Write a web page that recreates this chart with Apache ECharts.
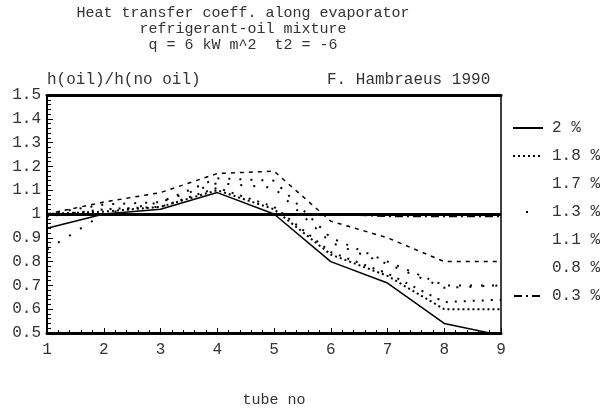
<!DOCTYPE html>
<html>
<head>
<meta charset="utf-8">
<script src="https://cdn.jsdelivr.net/npm/echarts@6/dist/echarts.min.js"></script>
<style>
  html, body { margin: 0; padding: 0; background: #fff; }
  #chart { width: 602px; height: 413px; }
</style>
</head>
<body>
<div id="chart"></div>
<script>
// tube number along the evaporator
const tubes = [1, 2, 3, 4, 5, 6, 7, 8, 9];

// h(oil)/h(no oil) per oil concentration
const oil20 = [0.94, 1.00, 1.02, 1.09, 1.00, 0.80, 0.71, 0.54, 0.49];
const oil18 = [1.00, 1.01, 1.03, 1.10, 1.02, 0.83, 0.74, 0.60, 0.60];
const oil17 = [0.99, 1.02, 1.03, 1.11, 1.03, 0.84, 0.75, 0.63, 0.64];
const oil13 = [0.85, 1.00, 1.05, 1.13, 1.11, 0.88, 0.79, 0.69, 0.70];
const oil11 = [1.00, 1.04, 1.05, 1.15, 1.14, 0.90, 0.80, 0.70, 0.70];
const oil08 = [1.00, 1.05, 1.09, 1.17, 1.18, 0.97, 0.90, 0.80, 0.80];
const oil03 = [1.00, 1.00, 1.00, 1.00, 1.00, 1.00, 0.99, 0.99, 0.99];

const legendNames = ['2 %', '1.8 %', '1.7 %', '1.3 %', '1.1 %', '0.8 %', '0.3 %'];

const FONT = '"Liberation Mono", "DejaVu Sans Mono", monospace';
const TXT = '#333';

const chart = echarts.init(document.getElementById('chart'));

// pair x and y values for a value axis
const pts = (ys) => ys.map((y, i) => [tubes[i], y]);

const mkSeries = (name, ys, dash, width) => ({
  name: name,
  type: 'line',
  data: pts(ys),
  symbol: 'none',
  smooth: false,
  lineStyle: { color: '#000', width: width, type: dash },
  itemStyle: { color: '#000' },
  z: 3
});

// legend samples: some styles barely show in the original key
const legendData = [
  { name: '2 %' },
  { name: '1.8 %' },
  { name: '1.7 %', lineStyle: { opacity: 0 } },
  { name: '1.3 %', lineStyle: { type: [2, 40], dashOffset: -13 } },
  { name: '1.1 %', lineStyle: { opacity: 0 } },
  { name: '0.8 %', lineStyle: { opacity: 0 } },
  { name: '0.3 %' }
];

const option = {
  animation: false,
  backgroundColor: '#fff',
  grid: { left: 47, right: 101, top: 95, bottom: 74 },
  graphic: [
    {
      type: 'text', x: 243, y: 5,
      style: {
        text: 'Heat transfer coeff. along evaporator\nrefrigerant-oil mixture\nq = 6 kW m^2  t2 = -6',
        textAlign: 'center', fill: TXT, font: '15px ' + FONT, lineHeight: 16
      }
    },
    {
      type: 'text', x: 47, y: 72,
      style: { text: 'h(oil)/h(no oil)', fill: TXT, font: '16px ' + FONT }
    },
    {
      type: 'text', x: 327, y: 72,
      style: { text: 'F. Hambraeus 1990', fill: TXT, font: '16px ' + FONT }
    }
  ],
  legend: {
    orient: 'vertical',
    left: 507,
    top: 115,
    itemWidth: 30,
    itemHeight: 14,
    itemGap: 12,
    data: legendData,
    itemStyle: { opacity: 0 },
    textStyle: { color: TXT, fontFamily: FONT, fontSize: 16, padding: [0, 0, 0, 4] }
  },
  xAxis: [
    {
      type: 'value', min: 1, max: 9, interval: 1,
      name: 'tube no', nameLocation: 'middle', nameGap: 60,
      nameTextStyle: { color: TXT, fontFamily: FONT, fontSize: 15 },
      axisLine: { show: true, lineStyle: { color: '#000', width: 3 } },
      axisTick: { show: true, inside: true, length: 5, lineStyle: { color: '#000' } },
      minorTick: { show: true, splitNumber: 5, length: 3, lineStyle: { color: '#000' } },
      axisLabel: { color: TXT, fontFamily: FONT, fontSize: 16, margin: 9 },
      splitLine: { show: false }
    },
    {
      type: 'value', min: 1, max: 9, position: 'top',
      axisLine: { show: true, lineStyle: { color: '#000', width: 3 } },
      axisTick: { show: false }, axisLabel: { show: false }, splitLine: { show: false }
    }
  ],
  yAxis: [
    {
      type: 'value', min: 0.5, max: 1.5, interval: 0.1,
      axisLine: { show: true, lineStyle: { color: '#000', width: 2 } },
      axisTick: { show: true, inside: true, length: 6, lineStyle: { color: '#000' } },
      minorTick: { show: true, splitNumber: 5, length: 4, lineStyle: { color: '#000' } },
      axisLabel: { color: TXT, fontFamily: FONT, fontSize: 16, margin: 6 },
      splitLine: { show: false }
    },
    {
      type: 'value', min: 0.5, max: 1.5, position: 'right',
      axisLine: { show: true, lineStyle: { color: '#000', width: 1.5 } },
      axisTick: { show: false }, axisLabel: { show: false }, splitLine: { show: false }
    }
  ],
  series: [
    Object.assign(mkSeries('2 %', oil20, 'solid', 1.5), {
      markLine: {
        silent: true, symbol: 'none', label: { show: false },
        lineStyle: { color: '#000', width: 3, type: 'solid' },
        data: [{ yAxis: 1 }]
      }
    }),
    mkSeries('1.8 %', oil18, [2, 3], 2),
    mkSeries('1.7 %', oil17, [2, 7], 2),
    mkSeries('1.3 %', oil13, [2, 11], 2),
    mkSeries('1.1 %', oil11, [2, 9], 2),
    mkSeries('0.8 %', oil08, [4, 5], 1.5),
    mkSeries('0.3 %', oil03, [2, 4, 8, 4], 1.5)
  ]
};

chart.setOption(option);
</script>
</body>
</html>
